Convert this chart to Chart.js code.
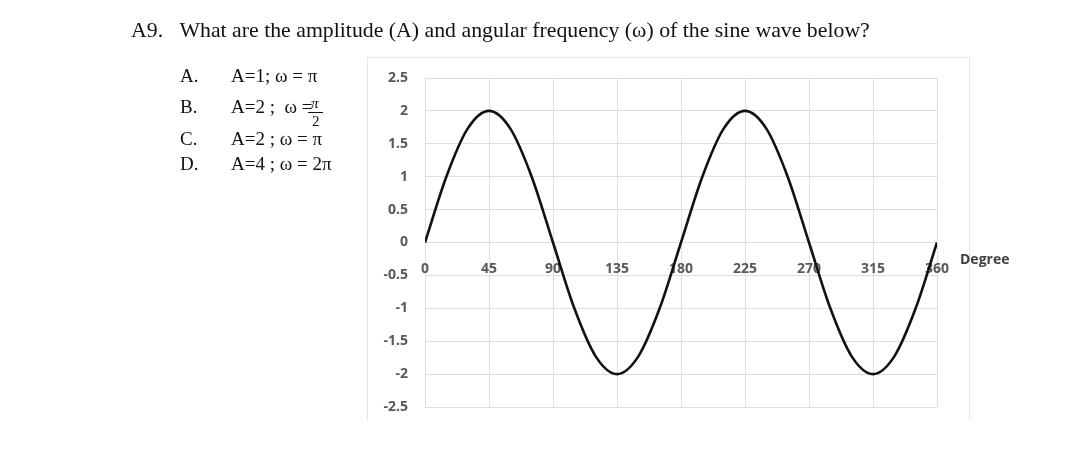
<!DOCTYPE html>
<html>
<head>
<meta charset="utf-8">
<script src="https://cdn.jsdelivr.net/npm/chart.js@4.4.1/dist/chart.umd.min.js"></script>
<style>
  html, body { margin: 0; padding: 0; background: #fff; }
  #wrap { position: relative; width: 1080px; height: 456px; overflow: hidden; }
  #chart { position: absolute; left: 0; top: 0; }
  .q { position: absolute; font-family: "Liberation Serif", serif; color: #111; white-space: nowrap; line-height: 1.2; }
  #title { left: 131px; top: 17px; font-size: 21.8px; }
  .opt { font-size: 19px; }
  .fr { font-size: 15px; }
  .bar { position: absolute; left: 308px; top: 112px; width: 15px; height: 1px; background: #111; }
</style>
</head>
<body>
<div id="wrap">
  <canvas id="chart" width="1080" height="456"></canvas>
  <div id="title" class="q">A9.&nbsp;&nbsp;&nbsp;What are the amplitude (A) and angular frequency (ω) of the sine wave below?</div>
  <div class="q opt" style="left:180px;top:65px">A.</div>
  <div class="q opt" style="left:231px;top:65px">A=1; ω = π</div>
  <div class="q opt" style="left:180px;top:96px">B.</div>
  <div class="q opt" style="left:231px;top:96px">A=2 ;&nbsp; ω =</div>
  <div class="q fr" style="left:311px;top:94px;font-style:italic">π</div>
  <div class="bar"></div>
  <div class="q fr" style="left:312px;top:112px">2</div>
  <div class="q opt" style="left:180px;top:128px">C.</div>
  <div class="q opt" style="left:231px;top:128px">A=2 ; ω = π</div>
  <div class="q opt" style="left:180px;top:153px">D.</div>
  <div class="q opt" style="left:231px;top:153px">A=4 ; ω = 2π</div>
</div>
<script>
// values, every 15 degrees
const degrees = [0, 15, 30, 45, 60, 75, 90, 105, 120, 135, 150, 165, 180,
                 195, 210, 225, 240, 255, 270, 285, 300, 315, 330, 345, 360];
const amplitude = [0, 1, 1.73, 2, 1.73, 1, 0, -1, -1.73, -2, -1.73, -1, 0,
                   1, 1.73, 2, 1.73, 1, 0, -1, -1.73, -2, -1.73, -1, 0];
const xTicks = [0, 45, 90, 135, 180, 225, 270, 315, 360];
const yTicks = [-2.5, -2, -1.5, -1, -0.5, 0, 0.5, 1, 1.5, 2, 2.5];
const xTitle = 'Degree';

const labelFont = { family: 'Open Sans', size: 14, weight: '700' };
const labelColor = '#595959';
const gridColor = '#dedede';

// outer frame of the chart box and the axis title
const extras = {
  id: 'extras',
  beforeDraw(chart) {
    const ctx = chart.ctx;
    ctx.save();
    ctx.strokeStyle = '#e4e4e4';
    ctx.lineWidth = 1;
    ctx.beginPath();
    ctx.moveTo(367.5, 420);
    ctx.lineTo(367.5, 57.5);
    ctx.lineTo(969.5, 57.5);
    ctx.lineTo(969.5, 420);
    ctx.stroke();
    ctx.restore();
  },
  afterDraw(chart) {
    const ctx = chart.ctx;
    const x = chart.scales.x.getPixelForValue(360);
    const y = chart.scales.y.getPixelForValue(0);
    ctx.save();
    ctx.font = '700 14px "Open Sans"';
    ctx.fillStyle = '#404040';
    ctx.textBaseline = 'middle';
    ctx.fillText(xTitle, x + 23, y + 18);
    ctx.restore();
  }
};

new Chart(document.getElementById('chart'), {
  type: 'line',
  data: {
    datasets: [{
      data: degrees.map((d, i) => ({ x: d, y: amplitude[i] })),
      borderColor: '#111111',
      borderWidth: 2.6,
      pointRadius: 0,
      cubicInterpolationMode: 'monotone',
      fill: false
    }]
  },
  options: {
    responsive: false,
    animation: false,
    layout: { padding: { left: 365, top: 78, right: 143, bottom: 49 } },
    plugins: { legend: { display: false }, tooltip: { enabled: false } },
    scales: {
      x: {
        type: 'linear',
        position: { y: 0 },
        min: 0, max: 360,
        afterBuildTicks: s => { s.ticks = xTicks.map(v => ({ value: v })); },
        ticks: { color: labelColor, font: labelFont, padding: 18, maxRotation: 0 },
        grid: { color: gridColor, drawTicks: false },
        border: { display: false }
      },
      y: {
        min: -2.5, max: 2.5,
        afterBuildTicks: s => { s.ticks = yTicks.map(v => ({ value: v })); },
        afterFit: s => { s.width = 60; },
        ticks: { color: labelColor, font: labelFont, padding: 17, callback: v => String(v) },
        grid: { color: gridColor, drawTicks: false },
        border: { display: false }
      }
    }
  },
  plugins: [extras]
});
</script>
</body>
</html>
